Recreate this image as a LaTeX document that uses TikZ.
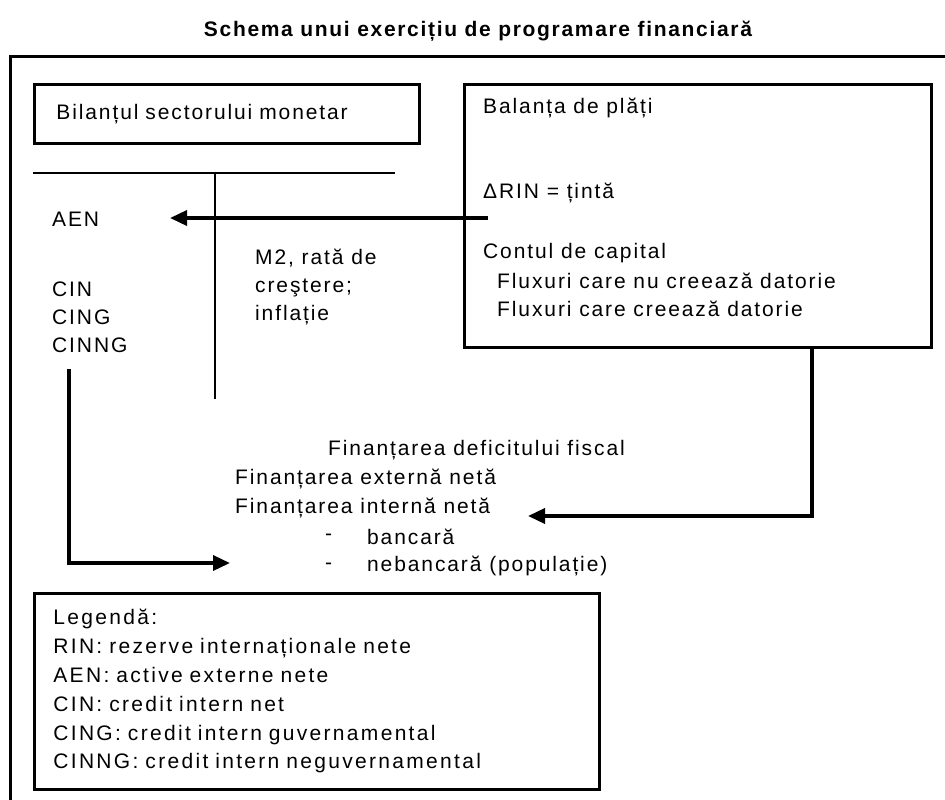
\documentclass[tikz,border=0pt]{standalone}
\usepackage{fontspec}
\setmainfont{Liberation Sans}[LetterSpace=9]
\usetikzlibrary{arrows.meta}

\begin{document}
\begin{tikzpicture}[x=1pt,y=-1pt,>={Triangle[length=17pt,width=15pt]},
    every node/.style={font=\fontsize{21}{28}\selectfont, inner sep=0pt, anchor=west},
    box/.style={draw, line width=2.8pt, anchor=north west, align=left},
    lin/.style={line width=2.5pt},
    arr/.style={->, line width=3.5pt}]
                \useasboundingbox (0,0) rectangle (945,800);

                \node[anchor=center, font=\fontsize{21}{24}\selectfont\bfseries\addfontfeatures{LetterSpace=8}] (titlu) at (478,31) {Schema unui exercițiu de programare financiară};
                \draw[line width=3pt] (945,57) -- (10,57) -- (10,800);

                % bilantul sectorului monetar
                \node[box, minimum width=385pt, minimum height=59pt, text width=341pt, inner xsep=22pt] (bsm) at (33,83) {Bilanțul sectorului monetar};
                \draw[lin] (33,173) -- (395,173);
                \draw[lin] (215,173) -- (215,399);

                \node (aen) at (52,219) {AEN};
                \node (cin) at (52,289) {CIN};
                \node (cing) at (52,317) {CING};
                \node (cinng) at (52,345) {CINNG};
                \node[align=left] (m2) at (255,287) {M2, rată de\\creştere;\\inflație};

                % balanta de plati
                \node[box, minimum width=467pt, minimum height=263pt] (bp) at (463,83) {};
                \node (bpt) at (483,108) {Balanța de plăți};
                \node (rin) at (483,193) {ΔRIN = țintă};
                \node (cc) at (483,253) {Contul de capital};
                \node (fx1) at (497,281) {Fluxuri care nu creează datorie};
                \node (fx2) at (497,309) {Fluxuri care creează datorie};

                % finantarea deficitului
                \node (f0) at (328,450) {Finanțarea deficitului fiscal};
                \node (f1) at (235,479) {Finanțarea externă netă};
                \node (f2) at (235,508) {Finanțarea internă netă};
                \node (d1) at (325,537) {-};
                \node (b1) at (367,537) {bancară};
                \node (d2) at (325,566) {-};
                \node (b2) at (367,566) {nebancară (populație)};

                \coordinate (rinout) at (488,218);
                \coordinate (aentip) at (170,218);
                \coordinate (cout) at (69,369);
                \coordinate (ctip) at (230,563);
                \coordinate (ftip) at (528,516);

                \draw[arr] (rinout) -- (aentip);
                \draw[arr] (cout) |- (ctip);
                \draw[arr] (bp.south -| 812,0) |- (ftip);

                % legenda
                \node[box, minimum width=565pt, minimum height=196pt, text width=527pt, inner xsep=19pt, font=\fontsize{21}{28.8}\selectfont\addfontfeatures{LetterSpace=11}] (leg) at (33,592) {Legendă:\\RIN: rezerve internaționale nete\\AEN: active externe nete\\CIN: credit intern net\\CING: credit intern guvernamental\\CINNG: credit intern neguvernamental};
            \end{tikzpicture}
\end{document}
